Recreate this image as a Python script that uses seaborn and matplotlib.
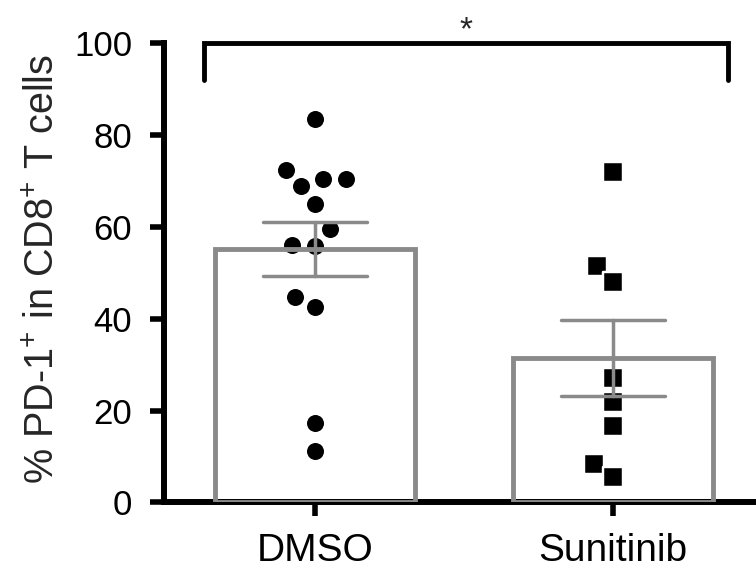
import matplotlib
matplotlib.use("Agg")
import pandas as pd
import matplotlib.pyplot as plt
import seaborn as sns

groups = ["DMSO", "Sunitinib"]
markers = ["o", "s"]
dmso = [83.5, 72.5, 70.5, 70.4, 68.9, 65.1, 59.5, 56.0, 55.8, 44.7, 42.5, 17.4, 11.2]
sunitinib = [72.0, 51.5, 48.0, 27.2, 21.9, 16.7, 8.3, 5.6]
yticks = [0, 20, 40, 60, 80, 100]
ylabel = "% PD-1$^{+}$ in CD8$^{+}$ T cells"
sig_label = "*"

df = pd.DataFrame({
    "group": [groups[0]] * len(dmso) + [groups[1]] * len(sunitinib),
    "value": dmso + sunitinib,
})

sns.set_theme(style="ticks")
plt.rcParams["font.family"] = ["Liberation Sans", "DejaVu Sans"]
plt.rcParams["mathtext.fontset"] = "custom"
plt.rcParams["mathtext.rm"] = "Liberation Sans"
plt.rcParams["mathtext.it"] = "Liberation Sans:italic"
plt.rcParams["mathtext.bf"] = "Liberation Sans:bold"

gray = "#8a8a8a"

fig = plt.figure(figsize=(7.56, 5.74), dpi=100)
ax = fig.add_axes([0.2169, 0.1246, 0.7831, 0.80])

# mean bar + SEM
sns.barplot(data=df, x="group", y="value", order=groups, errorbar="se",
            width=0.67, fill=False, color=gray, linewidth=3.5, capsize=0.35,
            err_kws={"color": gray, "linewidth": 2.5, "zorder": 4},
            zorder=3, ax=ax)

# individual points (white rim widens the swarm spacing a bit)
for grp, mk in zip(groups, markers):
    sns.swarmplot(data=df[df["group"] == grp], x="group", y="value", order=groups,
                  marker=mk, size=14, color="black", edgecolor="white",
                  linewidth=1.75, zorder=2, ax=ax)

ax.set_xlim(-0.507, 1.48)
ax.set_ylim(0, 100)
ax.set_yticks(yticks)
ax.set_xlabel("")
ax.set_ylabel(ylabel, fontsize=28.5, va="center")
ax.yaxis.set_label_coords(-0.2035, 0.508)

sns.despine(ax=ax)
for side in ["left", "bottom"]:
    ax.spines[side].set_linewidth(4.3)
    ax.spines[side].set_color("black")
ax.tick_params(axis="both", length=10, width=4, color="black", labelcolor="black")
ax.tick_params(axis="y", pad=13, labelsize=25)
ax.tick_params(axis="x", pad=12, labelsize=28)

# significance bracket
x0, x1 = 0 - 0.372, 1 + 0.385
ax.plot([x0, x0, x1, x1], [92, 100, 100, 92], color="black", lw=3.5,
        clip_on=False, solid_joinstyle="miter", zorder=5)
ax.text((x0 + x1) / 2, 100.8, sig_label, ha="center", va="baseline",
        fontsize=24, clip_on=False)

fig.savefig("out.png", dpi=100)
